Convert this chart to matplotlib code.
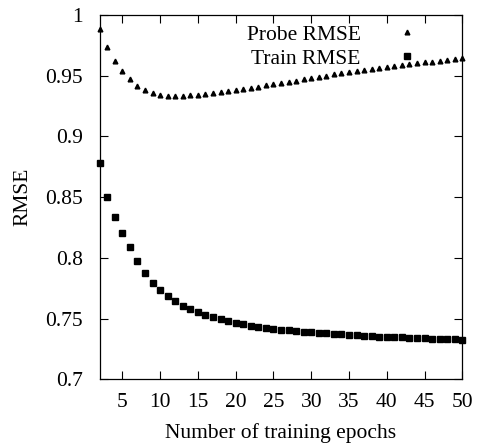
import matplotlib
matplotlib.use("Agg")
import matplotlib.pyplot as plt
from matplotlib.ticker import FuncFormatter

epochs = list(range(2, 51))
probe_rmse = [0.9886, 0.9736, 0.9625, 0.9535, 0.9472, 0.9417, 0.9384, 0.9362, 0.9345,
              0.9337, 0.9334, 0.9337, 0.9340, 0.9345, 0.9350, 0.9360, 0.9368, 0.9376,
              0.9384, 0.9392, 0.9403, 0.9410, 0.9420, 0.9431,
              0.9437, 0.9448, 0.9459, 0.9470, 0.9481, 0.9489, 0.9500, 0.9511, 0.9520,
              0.9530, 0.9539, 0.9550, 0.9558, 0.9566, 0.9574, 0.9583, 0.9591, 0.9596,
              0.9605, 0.9610, 0.9616, 0.9624, 0.9629, 0.9635, 0.9643]
train_rmse = [0.8785, 0.8500, 0.8340, 0.8206, 0.8088, 0.7973, 0.7874, 0.7792, 0.7736,
              0.7685, 0.7643, 0.7605, 0.7580, 0.7555, 0.7530, 0.7512, 0.7495, 0.7478,
              0.7467, 0.7455, 0.7443, 0.7433, 0.7424, 0.7416, 0.7409, 0.7403, 0.7397,
              0.7392, 0.7388, 0.7383, 0.7378, 0.7374, 0.7370, 0.7366, 0.7362, 0.7359,
              0.7356, 0.7353, 0.7350, 0.7347, 0.7345, 0.7342, 0.7340, 0.7338, 0.7336,
              0.7334, 0.7332, 0.7330, 0.7328]
x_ticks = [5, 10, 15, 20, 25, 30, 35, 40, 45, 50]
y_ticks = [0.7, 0.75, 0.8, 0.85, 0.9, 0.95, 1.0]

plt.rcParams['font.family'] = ['Liberation Serif', 'DejaVu Serif']
FS = 15.5

fig = plt.figure(figsize=(4.78, 4.43), dpi=100)
ax = fig.add_axes([0.2084, 0.1436, 0.7588, 0.8225])

ax.plot(epochs, probe_rmse, linestyle='none', marker='^', color='black',
        markersize=3.4, label='Probe RMSE', clip_on=False)
ax.plot(epochs, train_rmse, linestyle='none', marker='s', color='black',
        markersize=5.0, label='Train RMSE', clip_on=False)

ax.set_xlim(2, 50)
ax.set_ylim(0.7, 1.0)
ax.set_xticks(x_ticks)
ax.set_yticks(y_ticks)
ax.yaxis.set_major_formatter(FuncFormatter(lambda v, p: '%g' % round(v, 3)))
ax.tick_params(direction='in', length=6, width=0.8, top=True, right=True,
               labelsize=FS, colors='black')
ax.tick_params(axis='y', pad=12)
ax.tick_params(axis='x', pad=10)
for s in ax.spines.values():
    s.set_linewidth(0.9)
    s.set_color('black')

ax.set_xlabel('Number of training epochs', fontsize=FS, labelpad=8)
ax.set_ylabel('RMSE', fontsize=FS)
ax.yaxis.set_label_coords(-0.184, 0.5)

leg = ax.legend(loc='upper right', bbox_to_anchor=(0.906, 0.974), frameon=False,
                markerfirst=False, fontsize=FS, handlelength=2.0, handletextpad=1.14,
                labelspacing=0.19, borderpad=0.0, borderaxespad=0.0, alignment='right')

fig.savefig('out.png', dpi=100)
